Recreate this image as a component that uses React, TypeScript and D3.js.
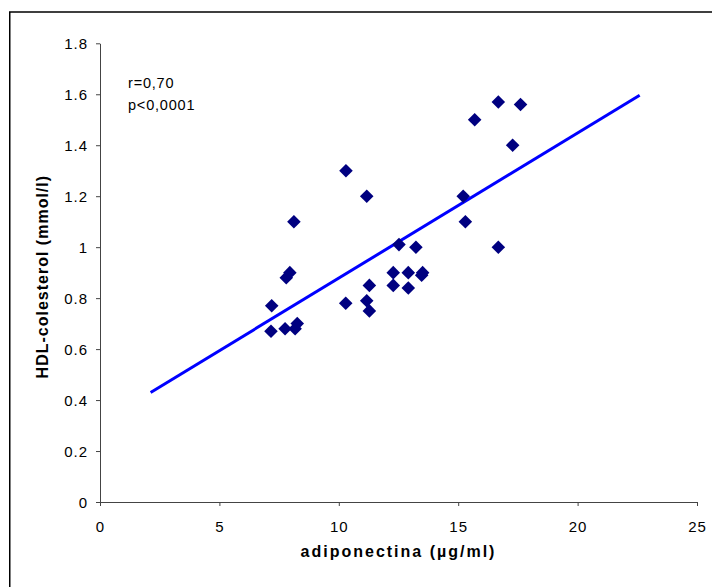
import React, { useEffect, useRef } from 'react';
import * as d3 from 'd3';

// adiponectina (µg/ml) vs HDL-colesterol (mmol/l)
const adiponectina = [
  7.16, 7.19, 7.75, 7.8, 7.95, 8.12, 8.17, 8.26, 10.29, 10.3, 11.17, 11.17, 11.28, 11.28, 12.28,
  12.28, 12.52, 12.91, 12.91, 13.23, 13.47, 13.51, 15.21, 15.3, 15.69, 16.68, 16.68, 17.28, 17.61,
];
const hdl = [
  0.67, 0.77, 0.68, 0.88, 0.9, 1.1, 0.68, 0.7, 0.78, 1.3, 0.79, 1.2, 0.75, 0.85, 0.85, 0.9, 1.01,
  0.84, 0.9, 1.0, 0.89, 0.9, 1.2, 1.1, 1.5, 1.57, 1.0, 1.4, 1.56,
];

// regression line end points
const trendX = [2.12, 22.6];
const trendY = [0.43, 1.596];

const xTicks = [0, 5, 10, 15, 20, 25];
const xTickLabels = ['0', '5', '10', '15', '20', '25'];
const yTicks = [0, 0.2, 0.4, 0.6, 0.8, 1, 1.2, 1.4, 1.6, 1.8];
const yTickLabels = ['0', '0.2', '0.4', '0.6', '0.8', '1', '1.2', '1.4', '1.6', '1.8'];

const notes = ['r=0,70', 'p<0,0001'];

const FONT = 'Arial, "Liberation Sans", sans-serif';

const App = () => {
  const ref = useRef<SVGSVGElement>(null);

  useEffect(() => {
    const svg = d3.select(ref.current);
    svg.selectAll('*').remove();

    const x = d3.scaleLinear().domain([0, 25]).range([100, 697]);
    const y = d3.scaleLinear().domain([0, 1.8]).range([502, 43.3]);

    // outer frame (cut off at right and bottom like the source image)
    svg
      .append('rect')
      .attr('x', 9.75)
      .attr('y', 12)
      .attr('width', 760)
      .attr('height', 640)
      .attr('fill', 'white')
      .attr('stroke', '#000')
      .attr('stroke-width', 1.5);

    // y axis
    const yAxis = svg
      .append('g')
      .attr('transform', `translate(${x(0)},0)`)
      .call(
        d3
          .axisLeft(y)
          .tickValues(yTicks)
          .tickFormat((d, i) => yTickLabels[i])
          .tickSize(4)
          .tickSizeOuter(0),
      );
    yAxis.select('.domain').attr('stroke', '#444');
    yAxis.selectAll('.tick line').attr('stroke', '#444');
    yAxis
      .selectAll('.tick text')
      .attr('x', -12)
      .attr('dy', '0.36em')
      .attr('font-family', FONT)
      .attr('font-size', 15)
      .attr('letter-spacing', 1)
      .attr('fill', '#000');

    // x axis
    const xAxis = svg
      .append('g')
      .attr('transform', `translate(0,${y(0)})`)
      .call(
        d3
          .axisBottom(x)
          .tickValues(xTicks)
          .tickFormat((d, i) => xTickLabels[i])
          .tickSize(4)
          .tickSizeOuter(0),
      );
    xAxis.select('.domain').attr('stroke', '#444');
    xAxis.selectAll('.tick line').attr('stroke', '#444');
    xAxis
      .selectAll('.tick text')
      .attr('y', 29.5)
      .attr('dy', 0)
      .attr('font-family', FONT)
      .attr('font-size', 15)
      .attr('letter-spacing', 1)
      .attr('fill', '#000');

    // trend line
    const line = d3
      .line<number>()
      .x(d => x(d))
      .y((d, i) => y(trendY[i]));
    svg
      .append('path')
      .attr('d', line(trendX))
      .attr('fill', 'none')
      .attr('stroke', '#0000ff')
      .attr('stroke-width', 3);

    // points
    const diamond = d3.symbol(d3.symbolSquare, 92);
    svg
      .append('g')
      .selectAll('path')
      .data(adiponectina)
      .enter()
      .append('path')
      .attr('d', diamond())
      .attr('transform', (d, i) => `translate(${x(d)},${y(hdl[i])}) rotate(45)`)
      .attr('fill', '#000080');

    // annotation
    svg
      .append('g')
      .selectAll('text')
      .data(notes)
      .enter()
      .append('text')
      .attr('x', 128)
      .attr('y', (d, i) => 88 + i * 22)
      .attr('font-family', FONT)
      .attr('font-size', 14.5)
      .attr('letter-spacing', 0.8)
      .text(d => d);

    // axis titles
    svg
      .append('text')
      .attr('x', (x(0) + x(25)) / 2)
      .attr('y', 557)
      .attr('text-anchor', 'middle')
      .attr('font-family', FONT)
      .attr('font-size', 16)
      .attr('font-weight', 'bold')
      .attr('letter-spacing', 2)
      .text('adiponectina (µg/ml)');

    svg
      .append('text')
      .attr('transform', `translate(48,${(y(0) + y(1.8)) / 2 + 4}) rotate(-90)`)
      .attr('text-anchor', 'middle')
      .attr('font-family', FONT)
      .attr('font-size', 16)
      .attr('font-weight', 'bold')
      .attr('letter-spacing', 1)
      .text('HDL-colesterol (mmol/l)');
  }, []);

  return (
    <svg
      ref={ref}
      width={712}
      height={587}
      style={{ position: 'absolute', left: 0, top: 0, background: '#fff' }}
    />
  );
};

export default App;
